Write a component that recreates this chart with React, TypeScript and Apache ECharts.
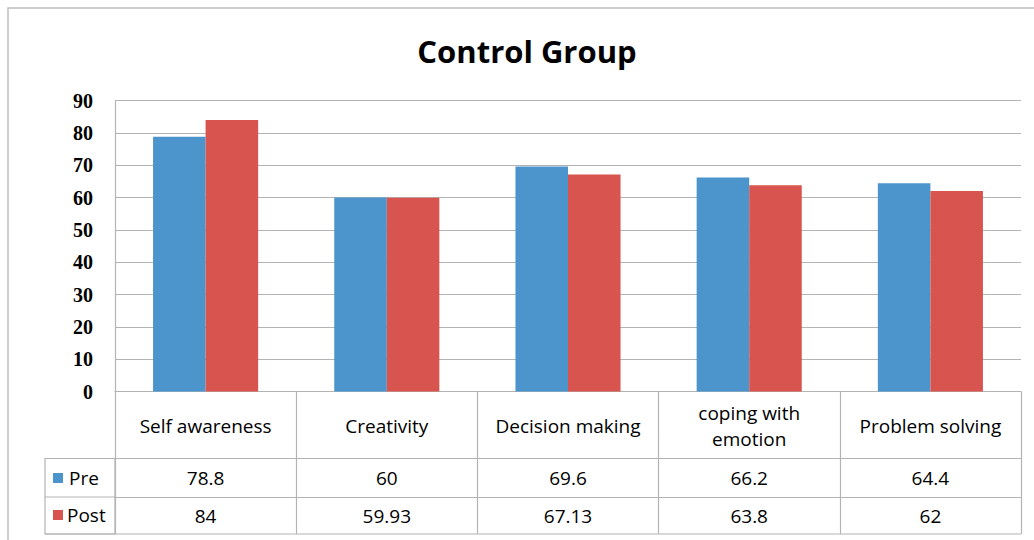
import React, { useEffect, useRef } from "react";
import * as echarts from "echarts";

const categories = ["Self awareness", "Creativity", "Decision making", "coping with\nemotion", "Problem solving"];
const preValues = [78.8, 60, 69.6, 66.2, 64.4];
const postValues = [84, 59.93, 67.13, 63.8, 62];
const seriesNames = ["Pre", "Post"];
const yMin = 0;
const yMax = 90;
const yInterval = 10;

const BLUE = "#4b94cc";
const RED = "#d8554f";
const GRAY = "#b4b4b4";
const TABLE_FONT = "'Open Sans', 'DejaVu Sans', sans-serif";
const TABLE_SIZE = 19;

export default function App() {
  const ref = useRef<HTMLDivElement>(null);
  useEffect(() => {
    if (!ref.current) return;
    const chart = echarts.init(ref.current, null, { renderer: "svg" });
    chart.setOption({
      animation: false,
      backgroundColor: "#ffffff",
      title: {
        text: "Control Group",
        left: 522,
        top: 30,
        textAlign: "center",
        textStyle: { fontFamily: TABLE_FONT, fontSize: 31, fontWeight: "bold", color: "#000" },
      },
      grid: { left: 115, right: 13, top: 100.5, bottom: 148.5 },
      xAxis: [
        {
          type: "category",
          data: categories,
          position: "bottom",
          axisLine: { show: true, lineStyle: { color: GRAY, width: 1.2 } },
          axisTick: { show: true, length: 142.5, lineStyle: { color: GRAY, width: 1.2 } },
          axisLabel: {
            margin: 34,
            verticalAlign: "middle",
            lineHeight: 26,
            fontFamily: TABLE_FONT,
            fontSize: TABLE_SIZE,
            color: "#000",
            interval: 0,
          },
          splitLine: { show: false },
        },
        {
          type: "category",
          data: preValues.map(String),
          position: "bottom",
          offset: 67,
          axisLine: { show: true, lineStyle: { color: GRAY, width: 1.2 } },
          axisTick: { show: false },
          axisLabel: { margin: 19, verticalAlign: "middle", fontFamily: TABLE_FONT, fontSize: TABLE_SIZE, color: "#000", interval: 0 },
        },
        {
          type: "category",
          data: postValues.map(String),
          position: "bottom",
          offset: 105.5,
          axisLine: { show: true, lineStyle: { color: GRAY, width: 1.2 } },
          axisTick: { show: false },
          axisLabel: { margin: 18.5, verticalAlign: "middle", fontFamily: TABLE_FONT, fontSize: TABLE_SIZE, color: "#000", interval: 0 },
        },
      ],
      yAxis: {
        type: "value",
        min: yMin,
        max: yMax,
        interval: yInterval,
        axisLine: { show: true, lineStyle: { color: GRAY, width: 1.2 } },
        axisTick: { show: false },
        axisLabel: {
          margin: 22,
          fontFamily: "'Liberation Serif', 'Times New Roman', serif",
          fontWeight: "bold",
          fontSize: 20,
          color: "#000",
        },
        splitLine: { show: true, lineStyle: { color: GRAY, width: 1.2 } },
      },
      series: [
        {
          name: seriesNames[0],
          type: "bar",
          xAxisIndex: 0,
          data: preValues,
          itemStyle: { color: BLUE },
          barGap: "0%",
          barCategoryGap: "42%",
        },
        {
          name: seriesNames[1],
          type: "bar",
          xAxisIndex: 0,
          data: postValues,
          itemStyle: { color: RED },
          barGap: "0%",
          barCategoryGap: "42%",
        },
      ],
      graphic: [
        {
          type: "rect",
          shape: { x: 8, y: 8, width: 1100, height: 600 },
          style: { fill: "none", stroke: "#bdbdbd", lineWidth: 1.5 },
          silent: true,
        },
        {
          type: "rect",
          shape: { x: 45, y: 458.5, width: 70, height: 75.5 },
          style: { fill: "none", stroke: GRAY, lineWidth: 1.2 },
          silent: true,
        },
        {
          type: "line",
          shape: { x1: 45, y1: 497, x2: 115, y2: 497 },
          style: { stroke: GRAY, lineWidth: 1.2 },
          silent: true,
        },
        {
          type: "line",
          shape: { x1: 45, y1: 534, x2: 1021, y2: 534 },
          style: { stroke: GRAY, lineWidth: 1.2 },
          silent: true,
        },
        {
          type: "rect",
          shape: { x: 53, y: 473, width: 10, height: 10 },
          style: { fill: BLUE },
          silent: true,
        },
        {
          type: "text",
          x: 69,
          y: 478,
          style: { text: seriesNames[0], fontFamily: TABLE_FONT, fontSize: TABLE_SIZE, fill: "#000", verticalAlign: "middle" },
          silent: true,
        },
        {
          type: "rect",
          shape: { x: 53, y: 510, width: 10, height: 10 },
          style: { fill: RED },
          silent: true,
        },
        {
          type: "text",
          x: 67,
          y: 515,
          style: { text: seriesNames[1], fontFamily: TABLE_FONT, fontSize: TABLE_SIZE, fill: "#000", verticalAlign: "middle" },
          silent: true,
        },
      ],
    });
    return () => chart.dispose();
  }, []);
  return (
    <div
      ref={ref}
      style={{ position: "fixed", left: 0, top: 0, width: 1034, height: 540, background: "#fff" }}
    />
  );
}
